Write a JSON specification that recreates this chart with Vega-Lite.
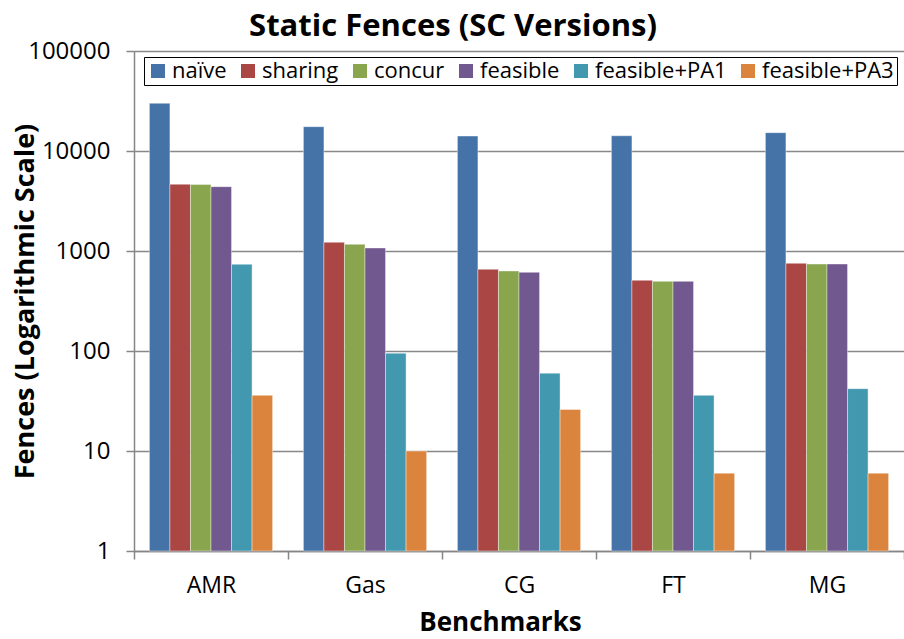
{
  "$schema": "https://vega.github.io/schema/vega-lite/v6.json",
  "autosize": {"type": "none"},
  "width": 770,
  "height": 500,
  "padding": {"left": 134, "top": 51, "right": 0, "bottom": 88},
  "background": "white",
  "config": {
    "font": "Open Sans",
    "view": {"stroke": null}
  },
  "title": {
    "text": "Static Fences (SC Versions)",
    "fontSize": 31,
    "fontWeight": "bold",
    "font": "Open Sans",
    "color": "#000000",
    "anchor": "middle",
    "dx": -66,
    "offset": -4
  },
  "data": {
    "values": [
      {"bench": "AMR", "version": "naïve", "fences": 30000},
      {"bench": "AMR", "version": "sharing", "fences": 4650},
      {"bench": "AMR", "version": "concur", "fences": 4630},
      {"bench": "AMR", "version": "feasible", "fences": 4400},
      {"bench": "AMR", "version": "feasible+PA1", "fences": 736},
      {"bench": "AMR", "version": "feasible+PA3", "fences": 36},
      {"bench": "Gas", "version": "naïve", "fences": 17500},
      {"bench": "Gas", "version": "sharing", "fences": 1222},
      {"bench": "Gas", "version": "concur", "fences": 1167},
      {"bench": "Gas", "version": "feasible", "fences": 1072},
      {"bench": "Gas", "version": "feasible+PA1", "fences": 95},
      {"bench": "Gas", "version": "feasible+PA3", "fences": 10},
      {"bench": "CG", "version": "naïve", "fences": 14100},
      {"bench": "CG", "version": "sharing", "fences": 656},
      {"bench": "CG", "version": "concur", "fences": 631},
      {"bench": "CG", "version": "feasible", "fences": 612},
      {"bench": "CG", "version": "feasible+PA1", "fences": 60},
      {"bench": "CG", "version": "feasible+PA3", "fences": 26},
      {"bench": "FT", "version": "naïve", "fences": 14200},
      {"bench": "FT", "version": "sharing", "fences": 509},
      {"bench": "FT", "version": "concur", "fences": 497},
      {"bench": "FT", "version": "feasible", "fences": 497},
      {"bench": "FT", "version": "feasible+PA1", "fences": 36},
      {"bench": "FT", "version": "feasible+PA3", "fences": 6},
      {"bench": "MG", "version": "naïve", "fences": 15250},
      {"bench": "MG", "version": "sharing", "fences": 753},
      {"bench": "MG", "version": "concur", "fences": 741},
      {"bench": "MG", "version": "feasible", "fences": 741},
      {"bench": "MG", "version": "feasible+PA1", "fences": 42},
      {"bench": "MG", "version": "feasible+PA3", "fences": 6}
    ]
  },
  "mark": {
    "type": "bar",
    "stroke": "white",
    "strokeWidth": 0.8,
    "strokeOpacity": 0.5
  },
  "encoding": {
    "x": {
      "field": "bench",
      "type": "nominal",
      "sort": ["AMR", "Gas", "CG", "FT", "MG"],
      "scale": {"paddingInner": 0, "paddingOuter": 0},
      "axis": {
        "title": "Benchmarks",
        "titleFontSize": 26,
        "titleFontWeight": "bold",
        "titleColor": "#000000",
        "titleX": 366,
        "titlePadding": 12,
        "labelAngle": 0,
        "labelFontSize": 23,
        "labelColor": "#000000",
        "labelPadding": 15,
        "tickBand": "extent",
        "tickSize": 8,
        "tickColor": "#868686",
        "tickWidth": 1.5,
        "domainColor": "#868686",
        "domainWidth": 1.5,
        "grid": false
      }
    },
    "xOffset": {
      "field": "version",
      "type": "nominal",
      "sort": ["naïve", "sharing", "concur", "feasible", "feasible+PA1", "feasible+PA3"],
      "scale": {"paddingInner": 0, "paddingOuter": 0.75}
    },
    "y": {
      "field": "fences",
      "type": "quantitative",
      "stack": null,
      "scale": {"type": "log", "domain": [1, 100000], "nice": false},
      "axis": {
        "title": "Fences (Logarithmic Scale)",
        "titleFontSize": 27,
        "titleFontWeight": "bold",
        "titleColor": "#000000",
        "titleX": -95,
        "values": [1, 10, 100, 1000, 10000, 100000],
        "format": "d",
        "labelFontSize": 24,
        "labelColor": "#000000",
        "labelPadding": 16,
        "tickSize": 8,
        "tickColor": "#868686",
        "tickWidth": 1.5,
        "domainColor": "#868686",
        "domainWidth": 1.5,
        "grid": true,
        "gridColor": "#888888",
        "gridWidth": 1.5
      }
    },
    "color": {
      "field": "version",
      "type": "nominal",
      "scale": {
        "domain": ["naïve", "sharing", "concur", "feasible", "feasible+PA1", "feasible+PA3"],
        "range": ["#4572A7", "#AA4643", "#89A54E", "#71588F", "#4198AF", "#DB843D"]
      },
      "legend": {
        "title": null,
        "orient": "none",
        "legendX": 10,
        "legendY": 6,
        "direction": "horizontal",
        "columns": 6,
        "columnPadding": 10,
        "labelOffset": 3,
        "labelFontSize": 22,
        "labelColor": "#000000",
        "labelFont": "Open Sans",
        "symbolType": "square",
        "symbolSize": 196,
        "symbolStrokeWidth": 0,
        "padding": 3,
        "strokeColor": "#000000",
        "fillColor": "white"
      }
    }
  }
}
